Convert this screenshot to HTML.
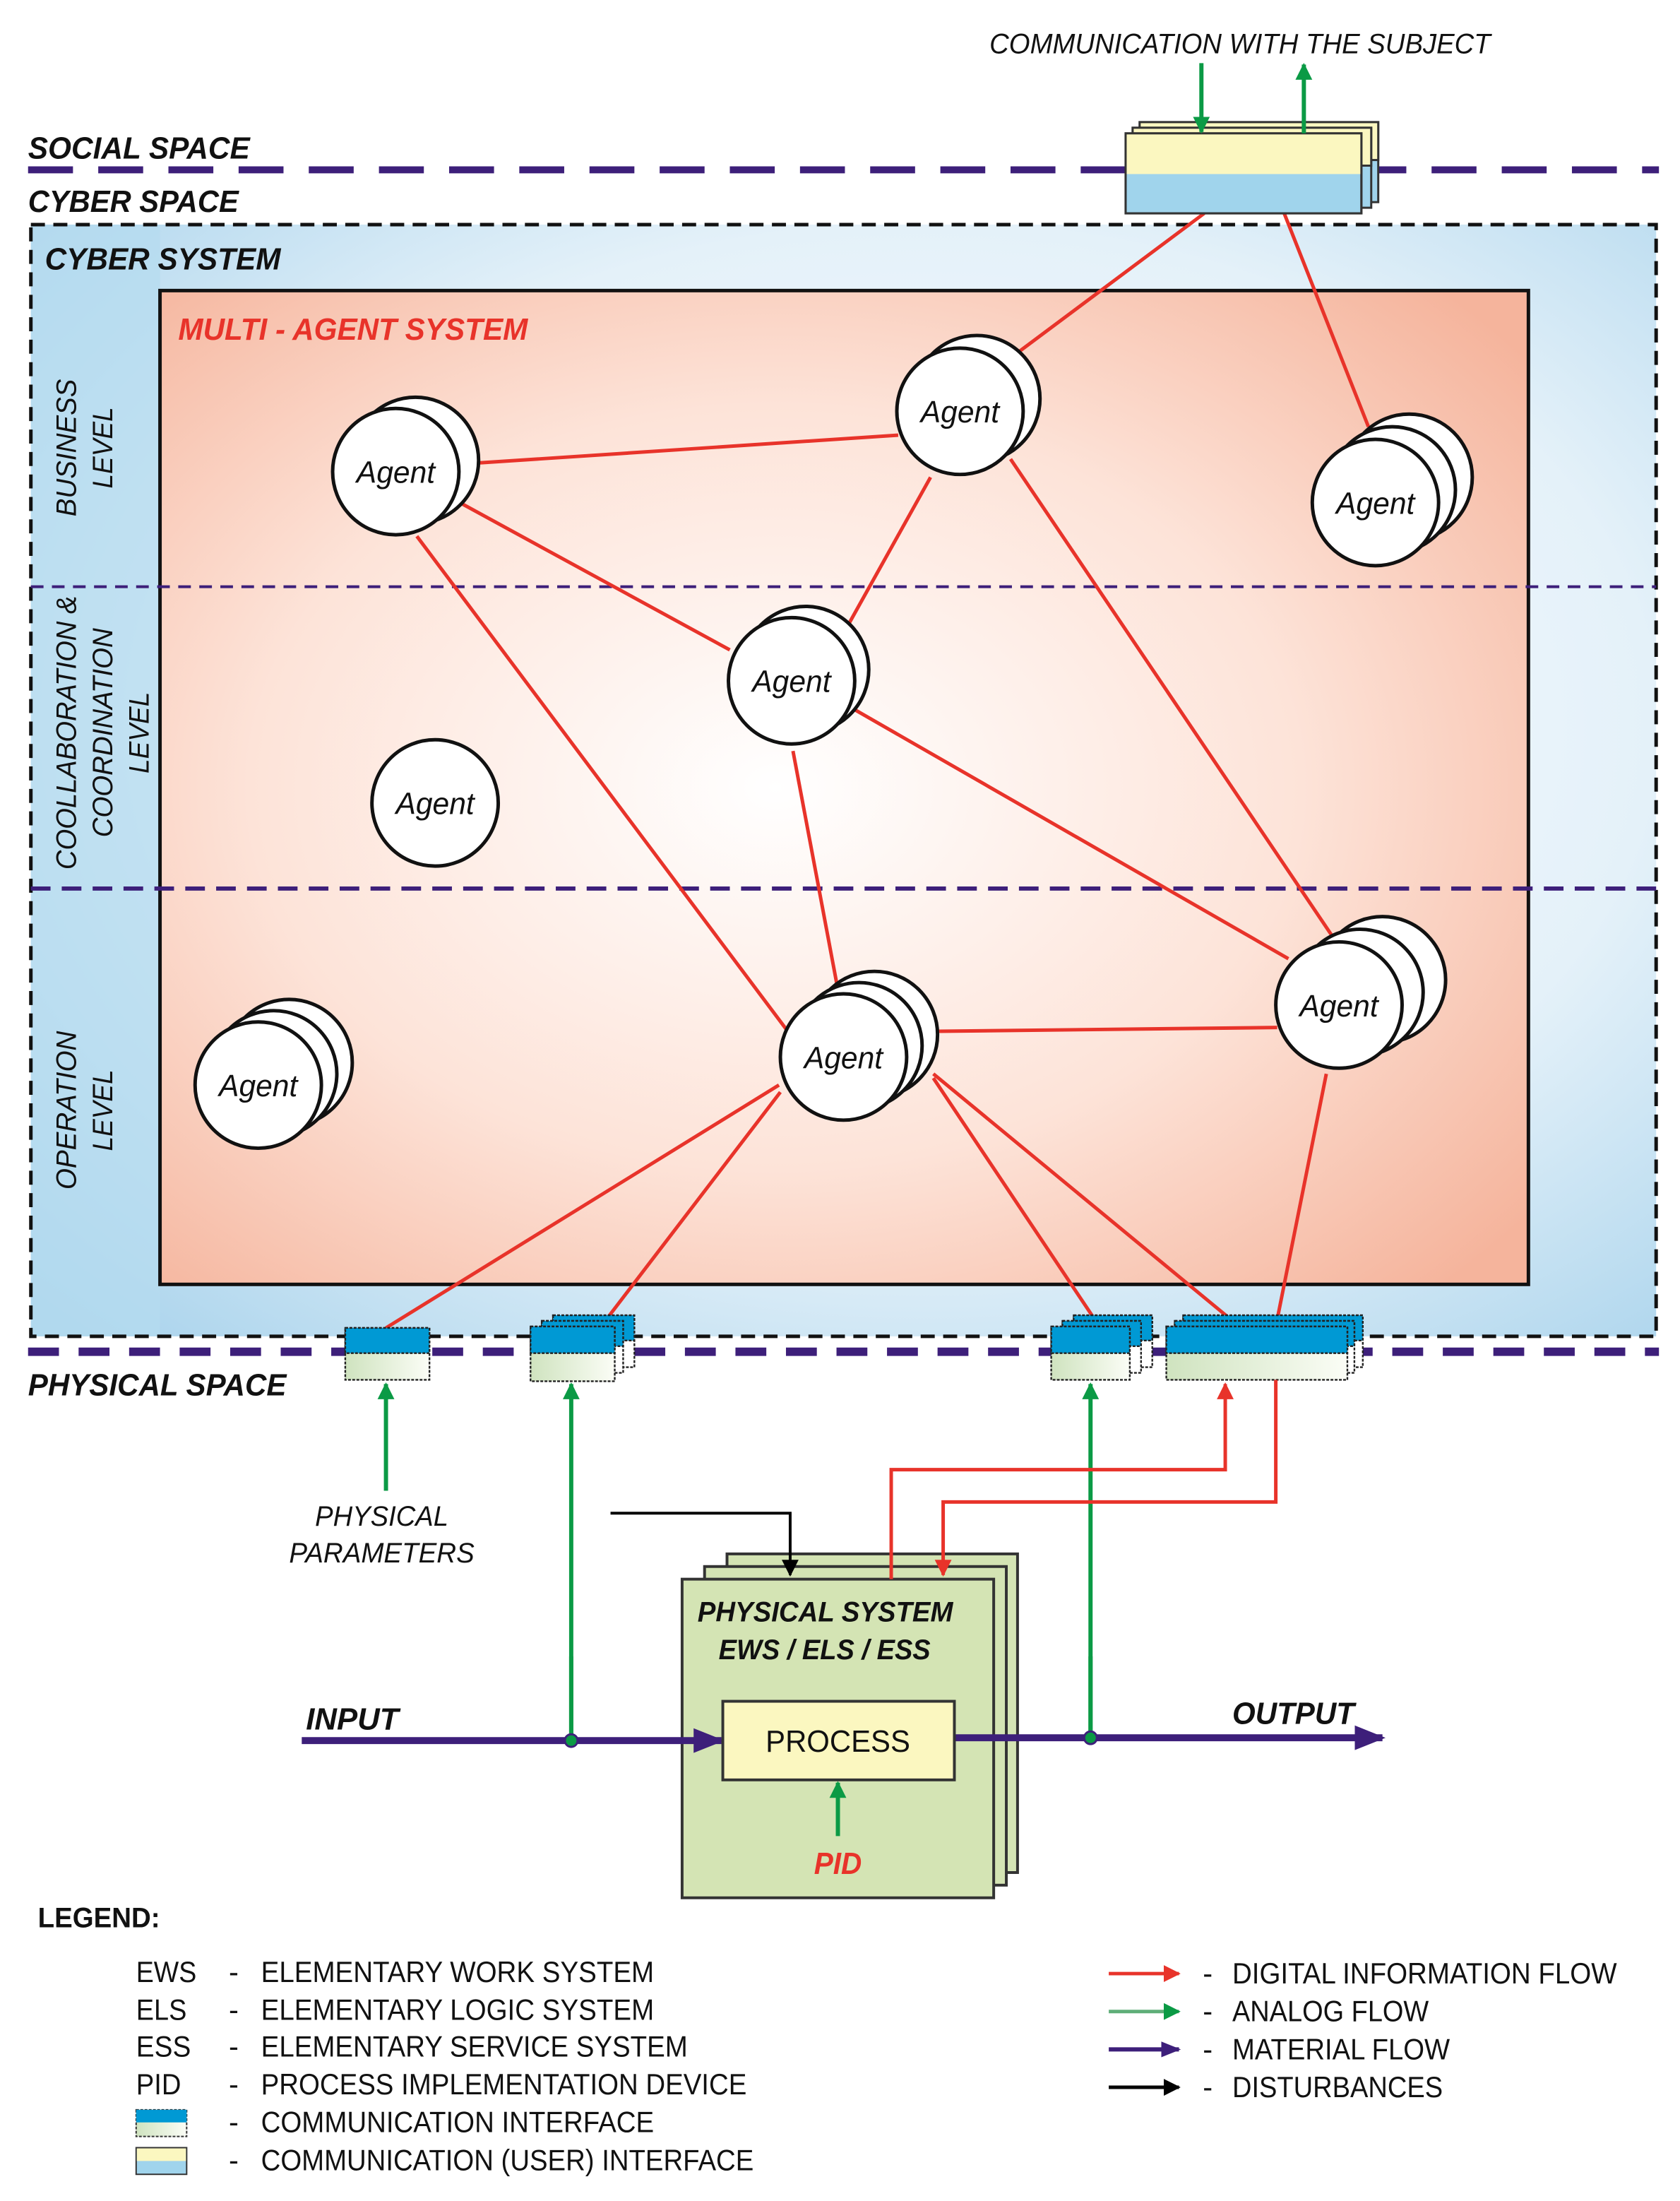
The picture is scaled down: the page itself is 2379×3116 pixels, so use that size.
<!DOCTYPE html>
<html><head><meta charset="utf-8"><style>html,body{margin:0;padding:0;background:#fff}svg{display:block}text{font-family:"Liberation Sans",sans-serif}</style></head><body>
<svg width="2379" height="3116" viewBox="0 0 1197 1568" preserveAspectRatio="none" xmlns="http://www.w3.org/2000/svg">
<defs>
<radialGradient id="cy" cx="0.55" cy="0.45" r="0.75"><stop offset="0" stop-color="#ffffff"/><stop offset="0.6" stop-color="#e4f1f9"/><stop offset="1" stop-color="#a9d3ec"/></radialGradient>
<radialGradient id="ma" cx="0.45" cy="0.5" r="0.7"><stop offset="0" stop-color="#ffffff"/><stop offset="0.55" stop-color="#fde3d8"/><stop offset="1" stop-color="#f5b49c"/></radialGradient>
<linearGradient id="gr" x1="0" x2="1"><stop offset="0" stop-color="#cfe3bf"/><stop offset="1" stop-color="#fbfdf6"/></linearGradient>
<marker id="ar" viewBox="0 0 10 10" refX="9" refY="5" markerWidth="12" markerHeight="12" orient="auto" markerUnits="userSpaceOnUse"><path d="M0,0L10,5L0,10z" fill="#e8332a"/></marker>
<marker id="agn" viewBox="0 0 10 10" refX="9" refY="5" markerWidth="12" markerHeight="12" orient="auto" markerUnits="userSpaceOnUse"><path d="M0,0L10,5L0,10z" fill="#0b9a45"/></marker>
<marker id="ab" viewBox="0 0 10 10" refX="9" refY="5" markerWidth="12" markerHeight="12" orient="auto" markerUnits="userSpaceOnUse"><path d="M0,0L10,5L0,10z" fill="#000"/></marker>
<marker id="ap" viewBox="0 0 10 10" refX="9" refY="5" markerWidth="22" markerHeight="22" orient="auto" markerUnits="userSpaceOnUse"><path d="M0,1L10,5L0,9z" fill="#3d1f7a"/></marker>
<marker id="aps" viewBox="0 0 10 10" refX="9" refY="5" markerWidth="14" markerHeight="14" orient="auto" markerUnits="userSpaceOnUse"><path d="M0,1L10,5L0,9z" fill="#3d1f7a"/></marker>
</defs>

<line x1="20" y1="121" x2="1182" y2="121" stroke="#3d1f7a" stroke-width="5" stroke-dasharray="32,18"/>
<text x="20" y="113" font-size="22" font-weight="bold" font-style="italic" fill="#111" textLength="158" lengthAdjust="spacingAndGlyphs">SOCIAL SPACE</text>
<text x="20" y="151" font-size="22" font-weight="bold" font-style="italic" fill="#111" textLength="150" lengthAdjust="spacingAndGlyphs">CYBER SPACE</text>
<text x="705" y="38" font-size="20" font-style="italic" fill="#111" textLength="357" lengthAdjust="spacingAndGlyphs">COMMUNICATION WITH THE SUBJECT</text>

<rect x="22" y="160" width="1158" height="792" fill="url(#cy)"/>
<rect x="22" y="160" width="92" height="792" fill="#b5dbef" opacity="0.7"/>
<rect x="22" y="160" width="1158" height="792" fill="none" stroke="#111" stroke-width="2.5" stroke-dasharray="10,6"/>
<text x="32" y="192" font-size="22" font-weight="bold" font-style="italic" fill="#111" textLength="168" lengthAdjust="spacingAndGlyphs">CYBER SYSTEM</text>

<rect x="114" y="207" width="975" height="708" fill="url(#ma)" stroke="#111" stroke-width="2.5"/>
<text x="127" y="242" font-size="22" font-weight="bold" font-style="italic" fill="#e8332a" textLength="249" lengthAdjust="spacingAndGlyphs">MULTI - AGENT SYSTEM</text>

<line x1="22" y1="418" x2="1180" y2="418" stroke="#3d1f7a" stroke-width="2" stroke-dasharray="9,6"/>
<line x1="22" y1="633" x2="1180" y2="633" stroke="#3d1f7a" stroke-width="3" stroke-dasharray="14,8"/>

<g font-size="20" font-style="italic" fill="#111" text-anchor="middle">
<text transform="translate(54,319) rotate(-90)" textLength="98" lengthAdjust="spacingAndGlyphs">BUSINESS</text>
<text transform="translate(80,319) rotate(-90)" textLength="58" lengthAdjust="spacingAndGlyphs">LEVEL</text>
<text transform="translate(54,522) rotate(-90)" textLength="195" lengthAdjust="spacingAndGlyphs">COOLLABORATION &amp;</text>
<text transform="translate(80,522) rotate(-90)" textLength="149" lengthAdjust="spacingAndGlyphs">COORDINATION</text>
<text transform="translate(106,522) rotate(-90)" textLength="58" lengthAdjust="spacingAndGlyphs">LEVEL</text>
<text transform="translate(54,791) rotate(-90)" textLength="113" lengthAdjust="spacingAndGlyphs">OPERATION</text>
<text transform="translate(80,791) rotate(-90)" textLength="58" lengthAdjust="spacingAndGlyphs">LEVEL</text>
</g>

<g stroke="#e8332a" stroke-width="2.5" fill="none">
<line x1="338" y1="330" x2="640" y2="310"/>
<line x1="322" y1="355" x2="520" y2="463"/>
<line x1="297" y1="382" x2="560" y2="733"/>
<line x1="663" y1="340" x2="600" y2="453"/>
<line x1="716" y1="258" x2="858" y2="152"/>
<line x1="975" y1="304" x2="915" y2="152"/>
<line x1="720" y1="327" x2="950" y2="668"/>
<line x1="565" y1="535" x2="597" y2="705"/>
<line x1="608" y1="505" x2="918" y2="683"/>
<line x1="640" y1="735" x2="910" y2="732"/>
<line x1="555" y1="773" x2="275" y2="946"/>
<line x1="556" y1="778" x2="432" y2="940"/>
<line x1="665" y1="768" x2="780" y2="940"/>
<line x1="665" y1="765" x2="877" y2="940"/>
<line x1="945" y1="765" x2="910" y2="940"/>
</g>

<g stroke="#111" stroke-width="2.5" fill="#fff">
<circle cx="296" cy="328" r="45"/><circle cx="282" cy="336" r="45"/>
<circle cx="696" cy="284" r="45"/><circle cx="684" cy="293" r="45"/>
<circle cx="1004" cy="340" r="45"/><circle cx="992" cy="349" r="45"/><circle cx="980" cy="358" r="45"/>
<circle cx="574" cy="477" r="45"/><circle cx="564" cy="485" r="45"/>
<circle cx="310" cy="572" r="45"/>
<circle cx="206" cy="757" r="45"/><circle cx="195" cy="765" r="45"/><circle cx="184" cy="773" r="45"/>
<circle cx="623" cy="737" r="45"/><circle cx="612" cy="745" r="45"/><circle cx="601" cy="753" r="45"/>
<circle cx="985" cy="698" r="45"/><circle cx="969" cy="707" r="45"/><circle cx="954" cy="716" r="45"/>
</g>
<g font-size="22" font-style="italic" fill="#111" text-anchor="middle">
<text x="282" y="344" textLength="56" lengthAdjust="spacingAndGlyphs">Agent</text><text x="684" y="301" textLength="56" lengthAdjust="spacingAndGlyphs">Agent</text><text x="980" y="366" textLength="56" lengthAdjust="spacingAndGlyphs">Agent</text>
<text x="564" y="493" textLength="56" lengthAdjust="spacingAndGlyphs">Agent</text><text x="310" y="580" textLength="56" lengthAdjust="spacingAndGlyphs">Agent</text><text x="184" y="781" textLength="56" lengthAdjust="spacingAndGlyphs">Agent</text>
<text x="601" y="761" textLength="56" lengthAdjust="spacingAndGlyphs">Agent</text><text x="954" y="724" textLength="56" lengthAdjust="spacingAndGlyphs">Agent</text>
</g>

<g stroke="#333" stroke-width="1.5">
<rect x="812" y="87" width="170" height="57" fill="#a0d4ec"/><rect x="812" y="87" width="170" height="27" fill="#fbf7c0"/>
<rect x="807" y="91" width="170" height="57" fill="#a0d4ec"/><rect x="807" y="91" width="170" height="27" fill="#fbf7c0"/>
<rect x="802" y="95" width="168" height="57" fill="#a0d4ec"/>
<rect x="802" y="95" width="168" height="29" fill="#fbf7c0" stroke="none"/>
<rect x="802" y="95" width="168" height="57" fill="none"/>
</g>
<line x1="856" y1="45" x2="856" y2="94" stroke="#0b9a45" stroke-width="3" marker-end="url(#agn)"/>
<line x1="929" y1="95" x2="929" y2="46" stroke="#0b9a45" stroke-width="3" marker-end="url(#agn)"/>

<line x1="20" y1="963" x2="1182" y2="963" stroke="#3d1f7a" stroke-width="6" stroke-dasharray="22,14"/>
<text x="20" y="994" font-size="22" font-weight="bold" font-style="italic" fill="#111" textLength="184" lengthAdjust="spacingAndGlyphs">PHYSICAL SPACE</text>

<g stroke="#222" stroke-width="1.2" stroke-dasharray="2,1">
<rect x="246" y="946" width="60" height="37" fill="url(#gr)"/><rect x="246" y="946" width="60" height="18" fill="#0099d4"/>
<rect x="394" y="937" width="58" height="37" fill="#fff"/><rect x="394" y="937" width="58" height="18" fill="#0099d4"/>
<rect x="386" y="941" width="58" height="37" fill="#fff"/><rect x="386" y="941" width="58" height="18" fill="#0099d4"/>
<rect x="378" y="945" width="60" height="39" fill="url(#gr)"/><rect x="378" y="945" width="60" height="19" fill="#0099d4"/>
<rect x="765" y="937" width="56" height="37" fill="#fff"/><rect x="765" y="937" width="56" height="18" fill="#0099d4"/>
<rect x="757" y="941" width="56" height="37" fill="#fff"/><rect x="757" y="941" width="56" height="18" fill="#0099d4"/>
<rect x="749" y="945" width="56" height="38" fill="url(#gr)"/><rect x="749" y="945" width="56" height="19" fill="#0099d4"/>
<rect x="843" y="937" width="128" height="37" fill="#fff"/><rect x="843" y="937" width="128" height="18" fill="#0099d4"/>
<rect x="837" y="941" width="128" height="37" fill="#fff"/><rect x="837" y="941" width="128" height="18" fill="#0099d4"/>
<rect x="831" y="945" width="129" height="38" fill="url(#gr)"/><rect x="831" y="945" width="129" height="19" fill="#0099d4"/>
</g>

<g stroke="#0b9a45" stroke-width="3">
<line x1="275" y1="1062" x2="275" y2="986" marker-end="url(#agn)"/>
<line x1="407" y1="1240" x2="407" y2="986" marker-end="url(#agn)"/>
<line x1="777" y1="1238" x2="777" y2="986" marker-end="url(#agn)"/>
</g>
<g font-size="20" font-style="italic" fill="#111" text-anchor="middle">
<text x="272" y="1087" textLength="95" lengthAdjust="spacingAndGlyphs">PHYSICAL</text><text x="272" y="1113" textLength="132" lengthAdjust="spacingAndGlyphs">PARAMETERS</text>
</g>

<g stroke="#333" stroke-width="2">
<rect x="518" y="1107" width="207" height="227" fill="#d4e4b4"/>
<rect x="502" y="1116" width="215" height="227" fill="#d4e4b4"/>
<rect x="486" y="1125" width="222" height="227" fill="#d4e4b4"/>
</g>
<text x="497" y="1155" font-size="20" font-weight="bold" font-style="italic" fill="#111" textLength="182" lengthAdjust="spacingAndGlyphs">PHYSICAL SYSTEM</text>
<text x="512" y="1182" font-size="20" font-weight="bold" font-style="italic" fill="#111" textLength="151" lengthAdjust="spacingAndGlyphs">EWS / ELS / ESS</text>

<g stroke="#e8332a" stroke-width="2.5" fill="none">
<polyline points="635,1125 635,1047 873,1047 873,986" marker-end="url(#ar)"/>
<polyline points="909,983 909,1070 672,1070 672,1122" marker-end="url(#ar)"/>
</g>
<polyline points="435,1078 563,1078 563,1122" stroke="#000" stroke-width="2" fill="none" marker-end="url(#ab)"/>

<line x1="215" y1="1240" x2="514" y2="1240" stroke="#3d1f7a" stroke-width="5" marker-end="url(#ap)"/>
<line x1="680" y1="1238" x2="985" y2="1238" stroke="#3d1f7a" stroke-width="5" marker-end="url(#ap)"/>
<line x1="407" y1="1240" x2="407" y2="1180" stroke="#0b9a45" stroke-width="3"/>
<line x1="777" y1="1238" x2="777" y2="1180" stroke="#0b9a45" stroke-width="3"/>
<circle cx="407" cy="1240" r="4.5" fill="#0b9a45" stroke="#3d1f7a" stroke-width="1.5"/>
<circle cx="777" cy="1238" r="4.5" fill="#0b9a45" stroke="#3d1f7a" stroke-width="1.5"/>
<text x="218" y="1232" font-size="22" font-weight="bold" font-style="italic" fill="#111" textLength="66" lengthAdjust="spacingAndGlyphs">INPUT</text>
<text x="878" y="1228" font-size="22" font-weight="bold" font-style="italic" fill="#111" textLength="87" lengthAdjust="spacingAndGlyphs">OUTPUT</text>

<rect x="515" y="1212" width="165" height="56" fill="#fbf7c0" stroke="#333" stroke-width="2"/>
<text x="597" y="1248" font-size="22" text-anchor="middle" fill="#111" textLength="103" lengthAdjust="spacingAndGlyphs">PROCESS</text>
<line x1="597" y1="1308" x2="597" y2="1270" stroke="#0b9a45" stroke-width="3" marker-end="url(#agn)"/>
<text x="597" y="1335" font-size="22" font-weight="bold" font-style="italic" text-anchor="middle" fill="#e8332a" textLength="34" lengthAdjust="spacingAndGlyphs">PID</text>

<text x="27" y="1373" font-size="20" font-weight="bold" fill="#111" textLength="87" lengthAdjust="spacingAndGlyphs">LEGEND:</text>
<g font-size="21" fill="#111">
<text x="97" y="1412" textLength="43" lengthAdjust="spacingAndGlyphs">EWS</text><text x="163" y="1412">-</text><text x="186" y="1412" textLength="280" lengthAdjust="spacingAndGlyphs">ELEMENTARY WORK SYSTEM</text>
<text x="97" y="1439" textLength="36" lengthAdjust="spacingAndGlyphs">ELS</text><text x="163" y="1439">-</text><text x="186" y="1439" textLength="280" lengthAdjust="spacingAndGlyphs">ELEMENTARY LOGIC SYSTEM</text>
<text x="97" y="1465" textLength="39" lengthAdjust="spacingAndGlyphs">ESS</text><text x="163" y="1465">-</text><text x="186" y="1465" textLength="304" lengthAdjust="spacingAndGlyphs">ELEMENTARY SERVICE SYSTEM</text>
<text x="97" y="1492" textLength="32" lengthAdjust="spacingAndGlyphs">PID</text><text x="163" y="1492">-</text><text x="186" y="1492" textLength="346" lengthAdjust="spacingAndGlyphs">PROCESS IMPLEMENTATION DEVICE</text>
<text x="163" y="1519">-</text><text x="186" y="1519" textLength="280" lengthAdjust="spacingAndGlyphs">COMMUNICATION INTERFACE</text>
<text x="163" y="1546">-</text><text x="186" y="1546" textLength="351" lengthAdjust="spacingAndGlyphs">COMMUNICATION (USER) INTERFACE</text>
<text x="857" y="1413">-</text><text x="878" y="1413" textLength="274" lengthAdjust="spacingAndGlyphs">DIGITAL INFORMATION FLOW</text>
<text x="857" y="1440">-</text><text x="878" y="1440" textLength="140" lengthAdjust="spacingAndGlyphs">ANALOG FLOW</text>
<text x="857" y="1467">-</text><text x="878" y="1467" textLength="155" lengthAdjust="spacingAndGlyphs">MATERIAL FLOW</text>
<text x="857" y="1494">-</text><text x="878" y="1494" textLength="150" lengthAdjust="spacingAndGlyphs">DISTURBANCES</text>
</g>
<rect x="97" y="1503" width="36" height="19" fill="url(#gr)" stroke="#333" stroke-width="1" stroke-dasharray="2,1"/>
<rect x="97" y="1503" width="36" height="9" fill="#0099d4"/>
<rect x="97" y="1530" width="36" height="19" fill="#a0d4ec" stroke="#333" stroke-width="1"/>
<rect x="97.5" y="1530.5" width="35" height="9" fill="#fbf7c0"/>
<line x1="790" y1="1406" x2="840" y2="1406" stroke="#e8332a" stroke-width="2.5" marker-end="url(#ar)"/>
<line x1="790" y1="1433" x2="840" y2="1433" stroke="#5fae78" stroke-width="2.5" marker-end="url(#agn)"/>
<line x1="790" y1="1460" x2="840" y2="1460" stroke="#3d1f7a" stroke-width="3" marker-end="url(#aps)"/>
<line x1="790" y1="1487" x2="840" y2="1487" stroke="#000" stroke-width="2.5" marker-end="url(#ab)"/>
</svg>
</body></html>
